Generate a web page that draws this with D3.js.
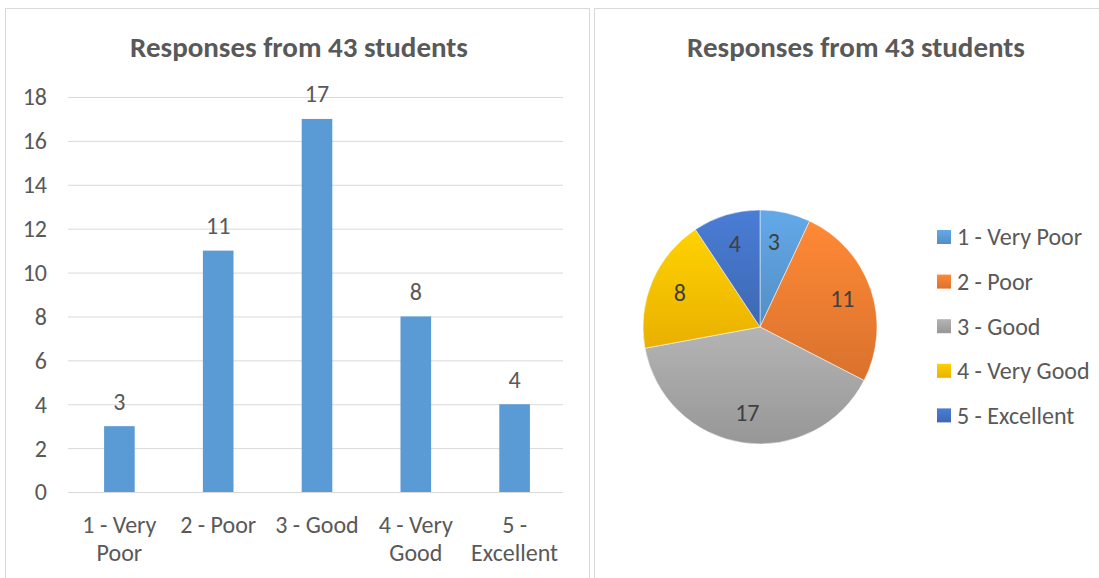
<!DOCTYPE html>
<html lang="en">

<head>
  <title>Responses from 43 students</title>
  <meta charset="UTF-8">
  <style>
    body {
      margin: 0;
      background: #fff;
    }
    text {
      font-family: Calibri, Carlito, "Open Sans", "Noto Sans", sans-serif;
      fill: #595959;
    }
  </style>
</head>

<body>
  <div id="container"></div>
  <script src="https://cdn.jsdelivr.net/npm/d3@7"></script>
  <script>
    const title = 'Responses from 43 students';
    const categories = ['1 - Very Poor', '2 - Poor', '3 - Good', '4 - Very Good', '5 - Excellent'];
    const catLines = [['1 - Very', 'Poor'], ['2 - Poor'], ['3 - Good'], ['4 - Very', 'Good'], ['5 -', 'Excellent']];
    const counts = [3, 11, 17, 8, 4];
    const yTicks = [0, 2, 4, 6, 8, 10, 12, 14, 16, 18];
    const sliceColors = ['#5b9bd5', '#ed7d31', '#a5a5a5', '#ffc000', '#4472c4'];

    const W = 1099, H = 578;
    const svg = d3.select('#container').append('svg')
      .attr('width', W)
      .attr('height', H);

    // panel frames
    svg.append('rect').attr('x', 5.5).attr('y', 8.5).attr('width', 584).attr('height', 580)
      .attr('fill', '#fff').attr('stroke', '#d9d9d9');
    svg.append('rect').attr('x', 594.5).attr('y', 8.5).attr('width', 520).attr('height', 580)
      .attr('fill', '#fff').attr('stroke', '#d9d9d9');

    // ---- bar chart ----
    const x = d3.scaleBand().domain(categories).range([70, 564]).paddingInner(0.69).paddingOuter(0.345);
    const y = d3.scaleLinear().domain([0, 18]).range([492, 97]);

    svg.append('text').attr('x', 299).attr('y', 47).attr('dy', '0.35em').attr('text-anchor', 'middle')
      .style('font-size', '29px').style('font-weight', 'bold').text(title);

    const left = svg.append('g');
    left.selectAll('line.grid').data(yTicks).join('line')
      .attr('class', 'grid')
      .attr('x1', 68).attr('x2', 563)
      .attr('y1', d => y(d) + 0.5).attr('y2', d => y(d) + 0.5)
      .attr('stroke', '#d9d9d9').attr('stroke-width', 1);
    left.selectAll('text.tick').data(yTicks).join('text')
      .attr('class', 'tick')
      .attr('x', 47).attr('y', d => y(d)).attr('dy', '0.35em')
      .attr('text-anchor', 'end')
      .style('font-size', '24px').text(d => d);

    left.selectAll('rect.bar').data(counts).join('rect')
      .attr('class', 'bar')
      .attr('x', (d, i) => x(categories[i]))
      .attr('width', x.bandwidth())
      .attr('y', d => y(d))
      .attr('height', d => y(0) - y(d))
      .attr('fill', '#5b9bd5');

    left.selectAll('text.val').data(counts).join('text')
      .attr('class', 'val')
      .attr('x', (d, i) => x(categories[i]) + x.bandwidth() / 2)
      .attr('y', d => y(d) - 25)
      .attr('dy', '0.35em')
      .attr('text-anchor', 'middle')
      .style('font-size', '24px').text(d => d);

    const xl = left.selectAll('text.cat').data(catLines).join('text')
      .attr('class', 'cat')
      .attr('text-anchor', 'middle')
      .style('font-size', '24px');
    xl.selectAll('tspan').data((d, i) => d.map(t => ({ t, i }))).join('tspan')
      .attr('x', d => x(categories[d.i]) + x.bandwidth() / 2)
      .attr('y', (d, j) => 525 + j * 28)
      .attr('dy', '0.35em')
      .text(d => d.t);

    // ---- pie chart ----
    const cx = 760, cy = 327, r = 117;
    svg.append('text').attr('x', 856).attr('y', 47).attr('dy', '0.35em').attr('text-anchor', 'middle')
      .style('font-size', '29px').style('font-weight', 'bold').text(title);

    const defs = svg.append('defs');
    sliceColors.forEach((c, i) => {
      const g = defs.append('linearGradient').attr('id', 'grad' + i)
        .attr('x1', 0).attr('y1', 0).attr('x2', 0).attr('y2', 1);
      g.append('stop').attr('offset', '0%').attr('stop-color', d3.color(c).brighter(0.25));
      g.append('stop').attr('offset', '100%').attr('stop-color', d3.color(c).darker(0.25));
    });

    const pie = d3.pie().sort(null).value(d => d);
    const arc = d3.arc().innerRadius(0).outerRadius(r);
    const labelArc = d3.arc().innerRadius(87).outerRadius(87);
    const pg = svg.append('g').attr('transform', `translate(${cx},${cy})`);
    const arcs = pie(counts);
    pg.selectAll('path').data(arcs).join('path')
      .attr('d', arc)
      .attr('fill', (d, i) => `url(#grad${i})`)
      .attr('stroke', '#fff').attr('stroke-width', 0.5);
    pg.selectAll('text').data(arcs).join('text')
      .attr('transform', (d, i) => {
        const [lx, ly] = labelArc.centroid(d);
        // the thin first slice keeps its label nearer the top edge
        return `translate(${i === 0 ? lx - 5 : lx},${ly})`;
      })
      .attr('dy', '0.35em')
      .attr('text-anchor', 'middle')
      .style('font-size', '24px').style('fill', '#404040')
      .text(d => d.data);

    // legend
    const lg = svg.append('g');
    const rows = lg.selectAll('g').data(categories).join('g')
      .attr('transform', (d, i) => `translate(937,${237 + i * 44.6})`);
    rows.append('rect').attr('x', 0).attr('y', -7).attr('width', 14).attr('height', 14)
      .attr('fill', (d, i) => `url(#grad${i})`);
    rows.append('text').attr('x', 20).attr('dy', '0.35em')
      .style('font-size', '24px').text(d => d);
  </script>
</body>

</html>
